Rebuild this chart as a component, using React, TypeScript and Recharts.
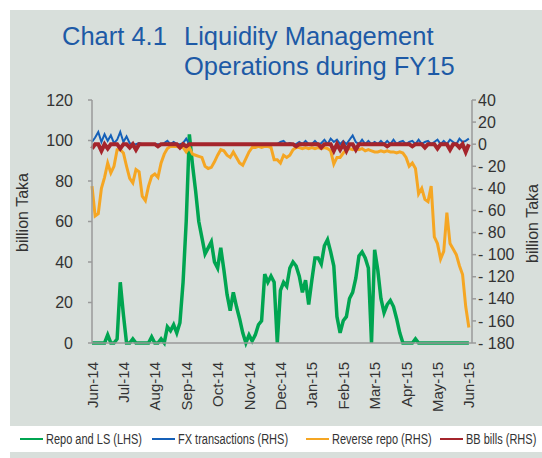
import React from 'react';
import { LineChart, Line, XAxis, YAxis } from 'recharts';

const months = ['Jun-14','Jul-14','Aug-14','Sep-14','Oct-14','Nov-14','Dec-14','Jan-15','Feb-15','Mar-15','Apr-15','May-15','Jun-15'];
const monthTicks = [0,10,20,30,40,50,60,70,80,90,100,110,120];
const leftTicks = [0,20,40,60,80,100,120];
const rightTicks = [-180,-160,-140,-120,-100,-80,-60,-40,-20,0,20,40];

// Repo and LS (LHS), billion Taka, ~3-day steps
const repo = [
  0,0,0,0,0,4,0,0,2,30,
  14,0,0,2,0,0,0,0,0,3,
  0,0,2,0,8,6,9,5,10,30,
  60,103,88,75,60,52,44,47,50,40,
  37,47,36,24,16,25,18,12,5,0,
  4,1,4,9,11,34,30,33,30,0,
  26,30,28,37,40,38,33,25,31,19,
  31,42,42,39,48,51,45,38,13,5,
  11,13,22,25,32,43,45,42,37,0,
  46,36,22,15,19,21,18,12,5,0,
  0,0,0,2,0,0,0,0,0,0,
  0,0,0,0,0,0,0,0,0,0,
  0
];
// FX transactions (RHS)
const fx = [
  2,6,11,2,9,3,8,1,4,11,
  2,7,1,0,0,1,0,0,0,0,
  0,0,0,1,3,0,2,0,0,1,
  5,0,0,0,0,0,0,0,0,0,
  0,0,0,0,0,0,0,0,0,0,
  0,0,0,0,0,0,0,0,0,0,
  2,3,0,1,0,0,2,0,3,0,
  0,3,0,1,4,0,5,2,4,0,
  3,0,4,8,2,0,4,0,3,0,
  2,0,3,0,3,0,4,0,2,3,
  0,2,3,0,4,0,2,3,0,2,
  4,0,3,0,4,2,0,5,2,3,
  5
];
// Reverse repo (RHS)
const reverseRepo = [
  -38,-65,-63,-40,-30,-17,-26,-20,-5,-5,
  -8,-20,-31,-35,-23,-25,-47,-51,-38,-29,
  -27,-30,-17,-9,-4,-2,-2,-2,-3,-3,
  -7,-3,-9,-10,-11,-12,-20,-22,-21,-16,
  -10,-5,-6,-10,-12,-7,-12,-17,-19,-13,
  -7,-3,-3,-2,-3,-2,-2,-3,-14,-14,
  -17,-10,-12,-10,-5,-3,-3,-4,-3,-4,
  -3,-4,-3,-4,-3,-4,-6,-18,-12,-12,
  -8,-5,-4,-5,-4,-5,-4,-6,-5,-6,
  -7,-7,-6,-7,-6,-7,-7,-8,-7,-8,
  -12,-20,-17,-22,-45,-40,-50,-52,-38,-84,
  -90,-104,-97,-62,-90,-95,-100,-110,-118,-147,
  -166
];
// BB bills (RHS)
const bbBills = [
  -4,0,0,-6,0,-4,0,0,0,-4,
  0,0,-3,0,-5,0,0,0,0,0,
  0,-2,0,0,0,0,0,0,-3,0,
  -2,0,0,0,0,0,0,0,0,0,
  0,0,0,0,0,0,0,0,0,0,
  0,0,0,0,0,0,0,0,0,0,
  0,0,0,0,0,-2,0,0,0,0,
  0,0,0,-3,0,0,0,-6,0,-5,
  0,-6,0,0,-5,0,0,0,0,0,
  0,0,0,0,-2,0,0,0,0,0,
  0,0,-2,0,0,0,-3,0,0,0,
  -4,0,0,0,-5,0,0,-3,0,-7,
  0
];

const data = repo.map((v, i) => ({ i, repo: v, fx: fx[i], rr: reverseRepo[i], bb: bbBills[i] }));

const FONT = "'Liberation Sans', Arial, sans-serif";
const AXIS = '#9a9a9a';
const TXT = '#333333';

const XTick = (props: any) => {
  const { x, y, payload } = props;
  return (
    <text x={x} y={y} transform={`rotate(-90 ${x} ${y})`} textAnchor="end" dominantBaseline="central"
      fontSize={15} fill={TXT} fontFamily={FONT}>
      {months[Math.round(payload.value / 10)]}
    </text>
  );
};

const LeftLabel = (props: any) => {
  const vb = props.viewBox || { x: 32, y: 100, width: 60, height: 243 };
  const x = vb.x - 10;
  const y = vb.y + vb.height / 2 - 9;
  return (
    <text x={x} y={y} transform={`rotate(-90 ${x} ${y})`} textAnchor="middle" dominantBaseline="central"
      fontSize={16} fill={TXT} fontFamily={FONT}>billion Taka</text>
  );
};

const RightLabel = (props: any) => {
  const vb = props.viewBox || { x: 472, y: 100, width: 60, height: 243 };
  const x = vb.x + vb.width;
  const y = vb.y + vb.height / 2 + 2;
  return (
    <text x={x} y={y} transform={`rotate(-90 ${x} ${y})`} textAnchor="middle" dominantBaseline="central"
      fontSize={16} fill={TXT} fontFamily={FONT}>billion Taka</text>
  );
};

const fmtRight = (v: number) => (v < 0 ? `- ${-v}` : `${v}`);

const legendItems = [
  { name: 'Repo and LS (LHS)', color: '#00a551', x: 20 },
  { name: 'FX transactions (RHS)', color: '#1560b8', x: 152 },
  { name: 'Reverse repo (RHS)', color: '#f5a623', x: 306 },
  { name: 'BB bills (RHS)', color: '#a5252c', x: 440 },
];

export default function App() {
  return (
    <div style={{ position: 'absolute', left: 0, top: 0, width: 542, height: 458, background: '#ffffff', overflow: 'hidden', fontFamily: FONT }}>
      <div style={{ position: 'absolute', left: 10, top: 10, width: 532, height: 448, background: '#d8dfdb' }} />
      <div style={{ position: 'absolute', left: 0, top: 0 }}>
        <LineChart width={542} height={458} data={data} margin={{ top: 100, right: 10, bottom: 45, left: 32 }}>
          <XAxis dataKey="i" type="number" domain={[0, 121]} ticks={monthTicks} interval={0}
            axisLine={{ stroke: AXIS, strokeWidth: 1.5 }} tickLine={false} tickSize={0} tickMargin={19}
            height={70} tick={<XTick />} />
          <YAxis yAxisId="left" orientation="left" width={60} domain={[0, 120]} ticks={leftTicks} interval={0}
            axisLine={{ stroke: AXIS, strokeWidth: 1.5 }} tickLine={{ stroke: AXIS, strokeWidth: 1.5 }}
            tickSize={4} tickMargin={15}
            tick={{ fill: TXT, fontSize: 16, fontFamily: FONT }}
            label={<LeftLabel />} />
          <YAxis yAxisId="right" orientation="right" width={60} domain={[-180, 40]} ticks={rightTicks} interval={0}
            axisLine={{ stroke: AXIS, strokeWidth: 1.5 }} tickLine={{ stroke: AXIS, strokeWidth: 1.5 }}
            tickSize={4} tickMargin={2} tickFormatter={fmtRight}
            tick={{ fill: TXT, fontSize: 16, fontFamily: FONT }}
            label={<RightLabel />} />
          <Line yAxisId="left" dataKey="repo" stroke="#00a551" strokeWidth={3.5} dot={false} isAnimationActive={false} type="linear" />
          <Line yAxisId="right" dataKey="fx" stroke="#1560b8" strokeWidth={2} dot={false} isAnimationActive={false} type="linear" />
          <Line yAxisId="right" dataKey="rr" stroke="#f5a623" strokeWidth={3} dot={false} isAnimationActive={false} type="linear" />
          <Line yAxisId="right" dataKey="bb" stroke="#a5252c" strokeWidth={4} dot={false} isAnimationActive={false} type="linear" />
        </LineChart>
      </div>
      <svg width={542} height={458} style={{ position: 'absolute', left: 0, top: 0, pointerEvents: 'none' }}>
        <text x={62} y={45} fontSize={25.5} fill="#1d5aa6" fontFamily={FONT}>Chart 4.1</text>
        <text x={184} y={45} fontSize={25.5} fill="#1d5aa6" fontFamily={FONT}>Liquidity Management</text>
        <text x={184} y={75} fontSize={25.5} fill="#1d5aa6" fontFamily={FONT}>Operations during FY15</text>
        <rect x={10} y={426} width={532} height={26} fill="#ffffff" />
        {legendItems.map((it) => (
          <g key={it.name}>
            <line x1={it.x} x2={it.x + 23} y1={439} y2={439} stroke={it.color} strokeWidth={2} />
            <g transform={`translate(${it.x + 26} 444) scale(0.76 1)`}>
              <text x={0} y={0} fontSize={14.5} fill={TXT} fontFamily={FONT}>{it.name}</text>
            </g>
          </g>
        ))}
      </svg>
    </div>
  );
}
